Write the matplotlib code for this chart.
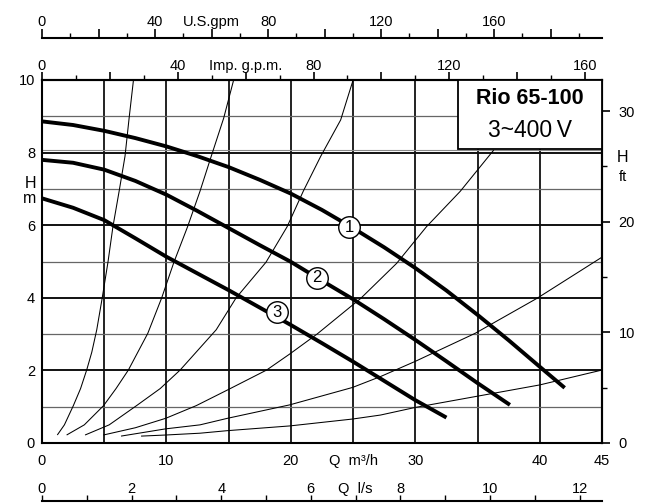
import matplotlib
matplotlib.use("Agg")
import matplotlib.pyplot as plt
from matplotlib.patches import Rectangle
from matplotlib.ticker import MultipleLocator, FuncFormatter

plt.rcParams['font.family'] = ['Liberation Sans', 'DejaVu Sans']

# Pump curves: flow Q [m3/h] and head H [m] for speeds 1, 2, 3
q_speed1 = [0, 2.5, 5, 7.5, 10, 12.5, 15, 17.5, 20, 22.5, 25, 27.5, 30, 32.5, 35, 37.5, 40, 42]
h_speed1 = [8.86, 8.76, 8.6, 8.4, 8.17, 7.9, 7.6, 7.25, 6.87, 6.42, 5.92, 5.39, 4.82, 4.2,
            3.53, 2.83, 2.1, 1.52]
q_speed2 = [0, 2.5, 5, 7.5, 10, 12.5, 15, 17.5, 20, 22.5, 25, 27.5, 30, 32.5, 35, 37.6]
h_speed2 = [7.8, 7.72, 7.53, 7.22, 6.84, 6.39, 5.92, 5.45, 4.99, 4.47, 3.96, 3.41, 2.84,
            2.25, 1.65, 1.05]
q_speed3 = [0, 2.5, 5, 7.5, 10, 12.5, 15, 17.5, 20, 22.5, 25, 27.5, 30, 32.5]
h_speed3 = [6.74, 6.48, 6.14, 5.64, 5.13, 4.67, 4.21, 3.73, 3.25, 2.75, 2.24, 1.71, 1.18, 0.7]

# Speed markers placed on each curve (Q, H)
marker_names = ["1", "2", "3"]
marker_q = [24.7, 22.1, 18.9]
marker_h = [5.95, 4.55, 3.6]

# System resistance curves
q_sys_a = [1.23, 1.8, 2.52, 3.1, 3.59, 4.0, 4.4, 4.84, 5.3, 5.7, 6.2, 6.67, 7.0, 7.35]
h_sys_a = [0.22, 0.5, 1.03, 1.5, 2.01, 2.5, 3.12, 4.0, 4.98, 5.96, 6.94, 7.9, 8.95, 10.0]
q_sys_b = [1.98, 3.4, 4.95, 5.95, 6.94, 8.5, 9.62, 10.6, 11.7, 12.7, 13.6, 14.6, 15.4]
h_sys_b = [0.22, 0.5, 1.03, 1.5, 2.01, 3.02, 4.0, 4.98, 5.96, 6.94, 7.9, 8.95, 10.0]
q_sys_c = [3.46, 5.4, 7.6, 9.5, 11.1, 14.0, 15.6, 18.0, 19.7, 21.0, 22.4, 24.0, 25.0]
h_sys_c = [0.22, 0.5, 1.03, 1.5, 2.01, 3.12, 4.0, 4.98, 5.96, 6.94, 7.9, 8.9, 10.0]
q_sys_d = [4.93, 7.5, 9.94, 12.4, 14.9, 18.05, 19.9, 22.1, 25.6, 28.5, 30.9, 33.6, 36.3]
h_sys_d = [0.22, 0.42, 0.68, 1.03, 1.46, 2.01, 2.45, 3.0, 3.98, 4.95, 5.96, 6.93, 8.07]
q_sys_e = [6.35, 9.94, 12.7, 14.9, 19.9, 24.95, 27.2, 30, 34.8, 39.8, 45]
h_sys_e = [0.19, 0.39, 0.5, 0.68, 1.05, 1.53, 1.83, 2.25, 3.02, 3.99, 5.12]
q_sys_f = [7.96, 9.94, 12.7, 14.9, 19.9, 24.95, 27.2, 30, 35, 40, 45]
h_sys_f = [0.19, 0.22, 0.27, 0.34, 0.47, 0.66, 0.77, 0.98, 1.29, 1.6, 2.01]

# Unit conversions from m3/h and m
M3H_TO_USGPM = 4.4029
M3H_TO_IMPGPM = 3.6662
M3H_TO_LS = 1 / 3.6
M_TO_FT = 1 / 0.3048

# Axis tick values and labels
q_ticks = [0, 10, 20, 25, 30, 40, 45]
q_ticklabels = ["0", "10", "20", "Q  m\u00b3/h", "30", "40", "45"]
h_ticks = [0, 2, 4, 6, 8, 10]
ft_ticks = [0, 10, 20, 30]
us_labels = {0: "0", 40: "40", 60: "U.S.gpm", 80: "80", 120: "120", 160: "160"}
imp_labels = {0: "0", 40: "40", 60: "Imp. g.p.m.", 80: "80", 120: "120", 160: "160"}
ls_labels = {0: "0", 2: "2", 4: "4", 6: "6", 7: "Q  l/s", 8: "8", 10: "10", 12: "12"}

title_model = "Rio 65-100"
title_supply = "3~400\u2009V"

FS = 10.5
W, H = 649, 504
fig = plt.figure(figsize=(W / 100, H / 100), dpi=100)
ax = fig.add_axes([42 / W, 61 / H, 560 / W, 363 / H])
ax.set_xlim(0, 45)
ax.set_ylim(0, 10)

# grid
for x in range(5, 45, 5):
    ax.axvline(x, color="#111111", lw=1.3, zorder=1)
for y in range(1, 10):
    if y % 2 == 0:
        ax.axhline(y, color="#111111", lw=1.4, zorder=1)
    else:
        ax.axhline(y, color="#666666", lw=0.9, zorder=1)
ax.axhline(8.08, color="#8a8a8a", lw=0.8, zorder=1)

# system curves
for qs, hs in [(q_sys_a, h_sys_a), (q_sys_b, h_sys_b), (q_sys_c, h_sys_c),
               (q_sys_d, h_sys_d), (q_sys_e, h_sys_e), (q_sys_f, h_sys_f)]:
    ax.plot(qs, hs, color="black", lw=0.75, zorder=2, solid_capstyle="butt",
            solid_joinstyle="round")

# pump curves
for qs, hs in [(q_speed1, h_speed1), (q_speed2, h_speed2), (q_speed3, h_speed3)]:
    ax.plot(qs, hs, color="black", lw=2.8, zorder=3, solid_capstyle="butt",
            solid_joinstyle="round")

for name, qm, hm in zip(marker_names, marker_q, marker_h):
    ax.plot([qm], [hm], marker="o", ms=15.5, mfc="white", mec="black", mew=1.0,
            zorder=4, linestyle="none")
    ax.text(qm, hm, name, ha="center", va="center", fontsize=12, zorder=5)

# title box
ax.add_patch(Rectangle((33.4, 8.1), 11.6, 1.9, facecolor="white",
                       edgecolor="black", lw=1.3, zorder=6))
ax.text(39.2, 9.48, title_model, ha="center", va="center", fontsize=15.5,
        fontweight="bold", zorder=7)
ax.text(39.2, 8.6, title_supply, ha="center", va="center", fontsize=16.5, zorder=7)

for s in ax.spines.values():
    s.set_linewidth(1.5)

ax.set_xticks(q_ticks)
ax.set_xticklabels(q_ticklabels)
ax.set_yticks(h_ticks)
ax.tick_params(axis="both", length=0, labelsize=FS)
ax.tick_params(axis="x", pad=8)
ax.tick_params(axis="y", pad=5)

# H m label on left
fig.text(30 / W, 1 - 183 / H, "H", ha="center", va="center", fontsize=FS + 1)
fig.text(30 / W, 1 - 199 / H, "m", ha="center", va="center", fontsize=FS + 1)

# right: feet
secy = ax.secondary_yaxis("right", functions=(lambda m: m * M_TO_FT, lambda f: f / M_TO_FT))
secy.set_yticks(ft_ticks)
secy.yaxis.set_minor_locator(MultipleLocator(5))
secy.tick_params(which="major", length=6, width=1.2, labelsize=FS, pad=6)
secy.tick_params(which="minor", length=3.5, width=1.0)
secy.spines["right"].set_linewidth(1.5)
fig.text(623 / W, 1 - 157 / H, "H", ha="center", va="center", fontsize=FS + 1)
fig.text(623 / W, 1 - 177 / H, "ft", ha="center", va="center", fontsize=FS)


def fmt_from(d):
    def f(v, pos):
        k = int(round(v))
        return d.get(k, "") if abs(v - k) < 1e-6 else ""
    return FuncFormatter(f)


# top: Imp. gpm on frame
imp = ax.secondary_xaxis("top", functions=(lambda q: q * M3H_TO_IMPGPM,
                                             lambda g: g / M3H_TO_IMPGPM))
imp.xaxis.set_major_locator(MultipleLocator(20))
imp.xaxis.set_minor_locator(MultipleLocator(10))
imp.xaxis.set_major_formatter(fmt_from(imp_labels))
imp.tick_params(which="major", length=6, width=1.2, labelsize=FS, pad=-1)
imp.tick_params(which="minor", length=3.5, width=1.0)
imp.spines["top"].set_linewidth(1.5)

# top: US gpm
us = ax.secondary_xaxis(1.116, functions=(lambda q: q * M3H_TO_USGPM,
                                          lambda g: g / M3H_TO_USGPM))
us.xaxis.set_major_locator(MultipleLocator(20))
us.xaxis.set_minor_locator(MultipleLocator(10))
us.xaxis.set_major_formatter(fmt_from(us_labels))
us.tick_params(which="major", length=6.5, width=1.2, labelsize=FS, pad=0)
us.tick_params(which="minor", length=3.5, width=1.0)
for s in us.spines.values():
    s.set_linewidth(1.5)

# bottom: l/s
ls = ax.secondary_xaxis(-0.16, functions=(lambda q: q * M3H_TO_LS,
                                          lambda v: v / M3H_TO_LS))
ls.xaxis.set_ticks_position("top")
ls.xaxis.set_major_locator(MultipleLocator(1))
ls.xaxis.set_major_formatter(fmt_from(ls_labels))
ls.tick_params(which="major", length=4, width=1.0, labelsize=FS, pad=0,
               top=True, labeltop=True, bottom=False, labelbottom=False)
for s in ls.spines.values():
    s.set_linewidth(1.5)

fig.savefig("out.png", dpi=100)
